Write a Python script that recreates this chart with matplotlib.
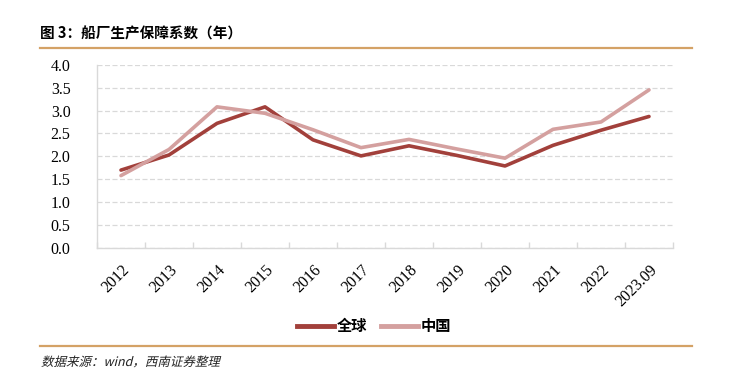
import matplotlib
matplotlib.use('Agg')
import matplotlib.pyplot as plt
from matplotlib.lines import Line2D
from matplotlib.textpath import TextPath
from matplotlib.patches import PathPatch
from matplotlib.font_manager import FontProperties
from matplotlib.transforms import Affine2D, IdentityTransform
import numpy as np

# data
years = ['2012', '2013', '2014', '2015', '2016', '2017', '2018', '2019',
         '2020', '2021', '2022', '2023.09']
global_vals = [1.70, 2.03, 2.72, 3.08, 2.36, 2.01, 2.23, 2.02, 1.79, 2.24, 2.57, 2.87]
china_vals = [1.58, 2.15, 3.08, 2.94, 2.58, 2.19, 2.37, 2.16, 1.96, 2.59, 2.75, 3.45]
series_names = ['全球', '中国']

W, H = 741, 370
fig = plt.figure(figsize=(W / 100, H / 100), dpi=100)

cjk = ['Noto Sans CJK SC', 'DejaVu Sans']
serif = ['Liberation Serif', 'DejaVu Serif']

# axes placed in pixel terms
left, right, top, bottom = 97, 673, 64.7, 248
ax = fig.add_axes([left / W, 1 - bottom / H, (right - left) / W, (bottom - top) / H])

x = np.arange(len(years))
dark = '#A2403B'
light = '#D4A09F'
ax.plot(x, global_vals, color=dark, lw=2.6, solid_capstyle='round', zorder=3)
ax.plot(x, china_vals, color=light, lw=2.6, solid_capstyle='round', zorder=3)

ax.set_xlim(-0.5, len(years) - 0.5)
ax.set_ylim(0, 4.0)
ax.set_yticks(np.arange(0, 4.01, 0.5))
ax.set_yticklabels(['%.1f' % v for v in np.arange(0, 4.01, 0.5)], fontfamily=serif, fontsize=11.5)
ax.tick_params(axis='y', length=0, pad=19)

ax.set_xticks(x)
ax.set_xticklabels(years, rotation=45, ha='right', rotation_mode='anchor',
                   fontfamily=serif, fontsize=11.5)
ax.tick_params(axis='x', which='major', length=0, pad=10)
ax.set_xticks(np.arange(-0.5, len(years), 1.0), minor=True)
ax.tick_params(axis='x', which='minor', direction='in', length=4, color='#D9D9D9', width=1)

ax.grid(axis='y', color='#D9D9D9', linestyle=(0, (4, 2)), lw=0.9)
ax.set_axisbelow(True)
for s in ['top', 'right']:
    ax.spines[s].set_visible(False)
for s in ['left', 'bottom']:
    ax.spines[s].set_color('#D9D9D9')
    ax.spines[s].set_linewidth(1)

# legend
handles = [Line2D([], [], color=dark, lw=3.5), Line2D([], [], color=light, lw=3.5)]
fig.legend(handles, series_names, loc='center', bbox_to_anchor=(374 / W, 1 - 326 / H),
           ncol=2, frameon=False, prop={'family': cjk, 'size': 11, 'weight': 'bold'},
           handlelength=2.4, handletextpad=0.2, columnspacing=0.9)

# title, rules and source note
fig.text(40 / W, 1 - 33 / H, '图 3：船厂生产保障系数（年）', fontfamily=cjk, fontsize=10.5,
         fontweight='bold', va='center', ha='left')
rule = '#D4A266'
fig.add_artist(Line2D([40 / W, 692 / W], [1 - 47.5 / H, 1 - 47.5 / H], color=rule, lw=1.6))
fig.add_artist(Line2D([40 / W, 692 / W], [1 - 346 / H, 1 - 346 / H], color=rule, lw=1.6))

# source note, slanted like the original italic
src = TextPath((0, 0), '数据来源：wind，西南证券整理', size=12.5,
               prop=FontProperties(family=cjk))
slant = Affine2D().skew_deg(14, 0).translate(41, H - 366)
fig.add_artist(PathPatch(src, transform=slant + IdentityTransform(),
                         facecolor='#222222', edgecolor='none'))

fig.savefig('out.png', dpi=100)
